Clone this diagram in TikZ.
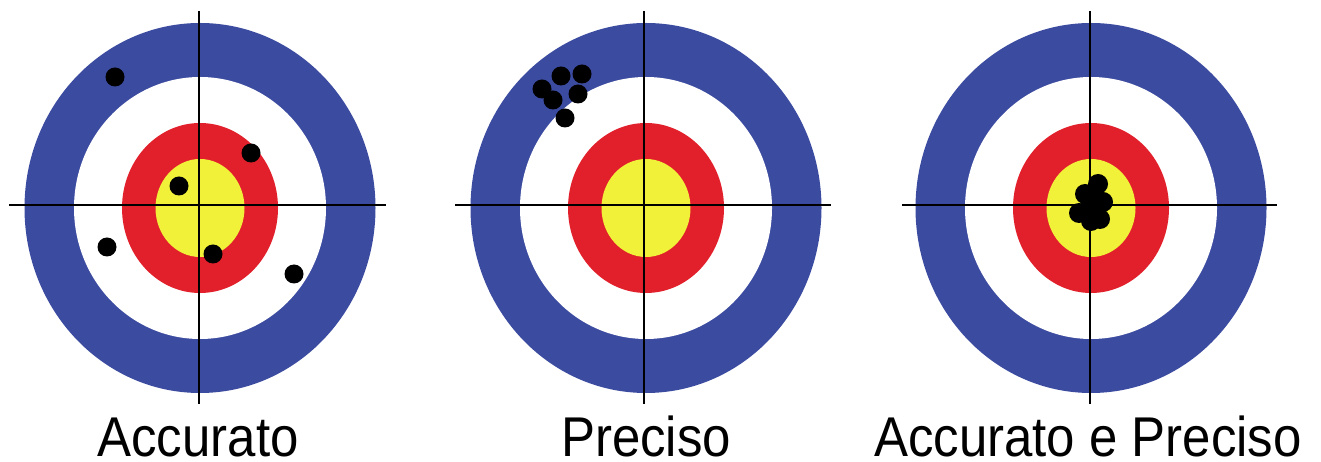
\documentclass[tikz,border=0pt]{standalone}
\usepackage{fontspec}
\usepackage{graphicx}
\setmainfont{Liberation Sans}
\definecolor{ringblue}{HTML}{3B4BA0}
\definecolor{ringred}{HTML}{E2202B}
\definecolor{ringyellow}{HTML}{F1F13A}
\tikzset{
  shot/.style={fill=black},
  hair/.style={line width=0.8pt},
  caption/.style={anchor=base,inner sep=0pt,font=\fontsize{14.5}{17}\selectfont}
}
\begin{document}
\begin{tikzpicture}[x=0.1mm,y=-0.1mm]
\useasboundingbox (0,0) rectangle (1321,462);
% rings of the three targets
\foreach \cx in {200,646,1091}{
  \fill[ringblue] (\cx,208) ellipse [x radius=175.5,y radius=185];
  \fill[white] (\cx,208) ellipse [x radius=126,y radius=131];
  \fill[ringred] (\cx,208) ellipse [x radius=78,y radius=85];
  \fill[ringyellow] (\cx,208) ellipse [x radius=44.5,y radius=49];
}
% shots
\foreach \p in {(115,77),(251,153),(179,186),(107,247),(213,254),(294,274)}
  \fill[shot] \p circle (9.5);
\foreach \p in {(561,76),(582,74),(542,89),(578,94),(553,100),(565,118)}
  \fill[shot] \p circle (9.5);
\foreach \p in {(1098,184),(1085,194),(1103,202),(1079,213),(1091,221),(1100,219),(1090,207),(1093,195)}
  \fill[shot] \p circle (10);
% crosshairs
\draw[hair] (9,205)--(386,205);   \draw[hair] (199,11)--(199,404);
\draw[hair] (455,205)--(831,205); \draw[hair] (644,11)--(644,404);
\draw[hair] (902,205)--(1277,205);\draw[hair] (1090,11)--(1090,404);
% captions
\node[caption] (acc) at (198,456) {\scalebox{1}[1.1]{Accurato}};
\node[caption] (pre) at (646,456) {\scalebox{1}[1.1]{Preciso}};
\node[caption] (accpre) at (1088,456) {\scalebox{1}[1.1]{Accurato e Preciso}};
\end{tikzpicture}
\end{document}
